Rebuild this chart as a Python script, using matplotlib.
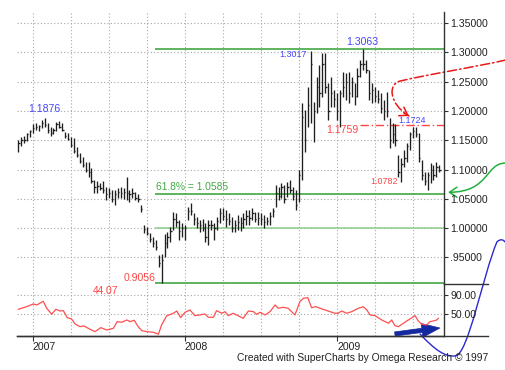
import matplotlib
matplotlib.use("Agg")
import matplotlib.pyplot as plt
import numpy as np
from matplotlib.path import Path
from matplotlib.patches import FancyArrowPatch
from matplotlib.lines import Line2D

plt.rcParams['font.family'] = ['Liberation Sans', 'DejaVu Sans']

# ---------------- data ----------------
first_week = -5   # weeks relative to the first week of 2007
highs = [1.150, 1.155, 1.158, 1.162, 1.168, 1.178, 1.180, 1.176, 1.184, 1.1876,
         1.179, 1.173, 1.170, 1.181, 1.183, 1.179, 1.164, 1.162, 1.155, 1.153,
         1.139, 1.128, 1.121, 1.113, 1.113, 1.102, 1.082, 1.080, 1.077, 1.080,
         1.070, 1.068, 1.065, 1.065, 1.068, 1.070, 1.068, 1.087, 1.065, 1.068,
         1.062, 1.058, 1.040, 1.005, 1.002, 0.992, 0.985, 0.980, 0.954, 0.955,
         0.990, 0.993, 1.002, 1.027, 1.026, 1.014, 1.009, 1.005, 1.036, 1.043,
         1.026, 1.019, 1.014, 1.016, 1.009, 1.014, 1.014, 1.009, 1.019, 1.034,
         1.034, 1.031, 1.026, 1.019, 1.014, 1.022, 1.019, 1.026, 1.031, 1.031,
         1.034, 1.027, 1.027, 1.026, 1.022, 1.019, 1.027, 1.034, 1.073, 1.070,
         1.077, 1.073, 1.079, 1.082, 1.070, 1.065, 1.100, 1.213, 1.201, 1.240,
         1.3017, 1.215, 1.258, 1.278, 1.298, 1.298, 1.248, 1.258, 1.236, 1.230,
         1.236, 1.266, 1.264, 1.266, 1.258, 1.248, 1.273, 1.287, 1.3063, 1.287,
         1.270, 1.248, 1.241, 1.236, 1.230, 1.218, 1.232, 1.188, 1.180, 1.178,
         1.125, 1.120, 1.133, 1.145, 1.164, 1.172, 1.1724, 1.162, 1.116, 1.096,
         1.096, 1.111, 1.108, 1.113, 1.108]
lows = [1.130, 1.140, 1.145, 1.148, 1.156, 1.163, 1.167, 1.165, 1.170, 1.173,
        1.163, 1.158, 1.160, 1.165, 1.170, 1.165, 1.153, 1.150, 1.139, 1.128,
        1.121, 1.111, 1.104, 1.096, 1.087, 1.077, 1.060, 1.060, 1.065, 1.060,
        1.048, 1.052, 1.045, 1.040, 1.052, 1.052, 1.050, 1.048, 1.045, 1.052,
        1.048, 1.045, 1.028, 0.992, 0.988, 0.977, 0.968, 0.963, 0.934, 0.9056,
        0.950, 0.966, 0.976, 0.997, 1.002, 0.980, 0.985, 0.980, 1.014, 1.022,
        1.005, 1.000, 0.993, 0.995, 0.976, 0.971, 0.997, 0.980, 0.997, 1.009,
        1.014, 1.002, 1.005, 0.993, 0.993, 0.997, 0.995, 1.000, 1.005, 1.005,
        1.014, 1.010, 1.005, 1.005, 1.000, 1.005, 1.005, 1.019, 1.036, 1.048,
        1.051, 1.043, 1.053, 1.060, 1.048, 1.031, 1.045, 1.082, 1.130, 1.172,
        1.180, 1.147, 1.197, 1.207, 1.224, 1.230, 1.184, 1.207, 1.207, 1.184,
        1.172, 1.224, 1.219, 1.213, 1.224, 1.210, 1.224, 1.258, 1.270, 1.264,
        1.219, 1.213, 1.215, 1.213, 1.196, 1.184, 1.190, 1.137, 1.145, 1.140,
        1.087, 1.0782, 1.104, 1.113, 1.133, 1.153, 1.155, 1.113, 1.082, 1.073,
        1.065, 1.077, 1.082, 1.087, 1.096]
closes = [1.145, 1.150, 1.150, 1.160, 1.165, 1.170, 1.172, 1.174, 1.180, 1.176,
          1.168, 1.162, 1.168, 1.178, 1.172, 1.168, 1.158, 1.152, 1.142, 1.132,
          1.125, 1.115, 1.108, 1.100, 1.095, 1.080, 1.070, 1.072, 1.068, 1.065,
          1.058, 1.060, 1.050, 1.058, 1.062, 1.060, 1.062, 1.060, 1.058, 1.060,
          1.052, 1.050, 1.032, 0.998, 0.992, 0.982, 0.975, 0.968, 0.940, 0.945,
          0.975, 0.985, 0.995, 1.015, 1.010, 0.995, 1.000, 1.000, 1.030, 1.030,
          1.015, 1.008, 1.005, 1.000, 0.985, 1.005, 1.005, 1.000, 1.012, 1.025,
          1.020, 1.015, 1.012, 1.000, 1.005, 1.010, 1.008, 1.015, 1.020, 1.018,
          1.025, 1.015, 1.018, 1.015, 1.010, 1.012, 1.020, 1.030, 1.060, 1.055,
          1.070, 1.050, 1.070, 1.065, 1.055, 1.040, 1.090, 1.190, 1.150, 1.210,
          1.280, 1.200, 1.240, 1.230, 1.280, 1.240, 1.200, 1.230, 1.220, 1.200,
          1.230, 1.240, 1.250, 1.230, 1.250, 1.225, 1.260, 1.280, 1.280, 1.270,
          1.230, 1.235, 1.225, 1.220, 1.205, 1.200, 1.200, 1.150, 1.160, 1.150,
          1.095, 1.110, 1.120, 1.140, 1.160, 1.165, 1.160, 1.120, 1.090, 1.080,
          1.090, 1.100, 1.090, 1.105, 1.100]
weeks = np.arange(first_week, first_week + len(highs))

osc_weeks = [-5.0, -2.2, 0.1, 1.3, 3.5, 4.7, 6.4, 7.8, 9.2, 10.4, 11.7, 13.2, 14.4,
             16.1, 17.4, 19.5, 21.2, 23.2, 25.2, 26.3, 27.5, 28.8, 30.3, 32.1,
             33.2, 34.6, 36.0, 37.2, 38.9, 41.2, 42.9, 44.0, 45.7, 48.0, 49.2,
             50.5, 52.0, 53.7, 55.4, 57.1, 58.8, 60.0, 61.7, 62.8, 64.6, 65.7,
             66.8, 68.5, 70.8, 71.9, 73.7, 75.4, 76.5, 77.7, 79.4, 81.1, 82.8,
             83.9, 85.6, 87.3, 89.6, 91.3, 92.5, 94.0, 95.3, 96.7, 98.2, 99.9,
             101.6, 103.3, 104.4, 105.6, 107.3, 109.0, 111.3, 113.0, 114.2,
             115.3, 117.0, 119.3, 121.6, 122.7, 123.8, 125.0, 126.7, 128.4,
             130.7, 131.8, 133.0, 134.7, 135.8, 136.9, 138.1, 138.7]
osc_vals = [60.4, 65.7, 71.3, 69.3, 76.9, 62.4, 50.0, 60.4, 56.8, 57.5, 43.0, 40.3,
            29.9, 24.3, 25.8, 19.0, 14.0, 22.3, 17.5, 19.0, 21.0, 34.7, 33.4, 38.2,
            34.7, 37.6, 24.3, 16.1, 14.0, 12.7, 8.6, 27.9, 46.5, 52.1, 56.8, 43.0,
            54.1, 58.9, 47.1, 48.6, 50.6, 43.8, 43.8, 57.5, 52.1, 55.4, 47.1, 52.1,
            45.0, 41.7, 56.8, 55.4, 50.0, 54.1, 48.6, 55.4, 69.3, 62.4, 64.5, 62.4,
            48.6, 76.1, 83.1, 84.4, 63.7, 65.7, 62.4, 58.9, 55.4, 52.1, 52.1, 56.8,
            52.1, 55.4, 62.4, 65.7, 58.9, 48.6, 47.1, 38.2, 31.4, 38.2, 26.4, 24.3,
            31.4, 38.2, 47.1, 36.1, 29.3, 27.9, 34.7, 36.1, 38.2, 41.7]

price_ticks = [1.35, 1.30, 1.25, 1.20, 1.15, 1.10, 1.05, 1.00, 0.95]
price_tick_labels = ['1.35000', '1.30000', '1.25000', '1.20000', '1.15000',
                     '1.10000', '1.05000', '1.00000', '.95000']
osc_ticks = [90, 50]
osc_tick_labels = ['90.00', '50.00']
year_weeks = [0, 52, 104]
year_labels = ['2007', '2008', '2009']

fib_high = 1.3063
fib_618 = 1.0585
fib_mid = 1.0000
fib_low = 0.9056
fib_start_week = 41.7
resist_level = 1.1759
resist_start_week = 111.9
osc_last = '44.07'

# ---------------- style ----------------
BLUE_TXT = '#4646ff'
RED = '#ff4545'
GREEN = '#43a843'
LGREEN = '#8cce8c'
GRID = '#a8a8a8'
BAR = '#1e1e1e'
AXC = '#333333'

W, H = 506, 370
fig = plt.figure(figsize=(W / 100, H / 100), dpi=100)
ax = fig.add_axes([17 / W, 1 - 284 / H, 427 / W, 272 / H])
ax2 = fig.add_axes([17 / W, 1 - 336 / H, 427 / W, 52 / H])

xlim = (-5.47, 140.6)
for a in (ax, ax2):
    a.set_facecolor('none')
    for s in ('top', 'left'):
        a.spines[s].set_visible(False)
    a.spines['right'].set_color(AXC)
    a.spines['right'].set_linewidth(1.0)
ax.spines['bottom'].set_visible(False)
ax2.spines['bottom'].set_color(AXC)
ax2.spines['bottom'].set_linewidth(1.0)

grid_kw = dict(color=GRID, lw=0.8, linestyle=(0, (1, 2)), zorder=0)
quarter_weeks = np.arange(0, 140, 13)
for yv in price_ticks:
    ax.axhline(yv, **grid_kw)
for xv in quarter_weeks:
    ax.axvline(xv, **grid_kw)
    ax2.axvline(xv, **grid_kw)
for yv in osc_ticks:
    ax2.axhline(yv, **grid_kw)

# price bars
ax.vlines(weeks, lows, highs, color=BAR, lw=0.95, zorder=3)
ax.hlines(closes, weeks, weeks + 0.45, color=BAR, lw=0.95, zorder=3)

# fib / support lines
ax.hlines([fib_high, fib_618, fib_low], fib_start_week, xlim[1], color=GREEN, lw=1.2, zorder=2)
ax.hlines([fib_mid], fib_start_week, xlim[1], color=LGREEN, lw=1.1, zorder=2)
ax.hlines([resist_level], resist_start_week, xlim[1], color=RED, lw=1.0,
          linestyle=(0, (6, 2, 1, 2)), zorder=2)

# labels
def label(a, txt, xy, off, color, size, ha='center', va='center'):
    a.annotate(txt, xy=xy, xytext=off, textcoords='offset pixels', color=color,
               fontsize=size, ha=ha, va=va, zorder=5)

i_peak07 = int(np.argmax(highs[:20]))
label(ax, '1.1876', (weeks[i_peak07], highs[i_peak07]), (0, 9), BLUE_TXT, 7.6)
i_peak09 = int(np.argmax(highs))
label(ax, '1.3063', (weeks[i_peak09], highs[i_peak09]), (-1, 6.5), BLUE_TXT, 7.6)
i_3017 = highs.index(1.3017)
label(ax, '1.3017', (weeks[i_3017], highs[i_3017]), (-3.5, -3.5), BLUE_TXT, 6.4, ha='right')
i_1724 = highs.index(1.1724)
label(ax, '1.1724', (weeks[i_1724], highs[i_1724]), (-3.5, 6.5), BLUE_TXT, 6.4)
label(ax, '1.1759', (105.9, resist_level), (0, -5), RED, 7.6)
i_0782 = lows.index(1.0782)
label(ax, '1.0782', (weeks[i_0782], lows[i_0782]), (-3.5, 1), RED, 6.4, ha='right')
i_low = int(np.argmin(lows))
label(ax, '0.9056', (weeks[i_low], lows[i_low]), (-5.5, 5.6), RED, 7.6, ha='right')
label(ax, '61.8% = 1.0585', (fib_start_week, fib_618), (1, 6.5), GREEN, 7.4, ha='left')

# right axis ticks
ax.yaxis.tick_right()
ax.set_yticks(price_ticks)
ax.set_yticklabels(price_tick_labels)
ax.set_xticks([])
ax2.yaxis.tick_right()
ax2.set_yticks(osc_ticks)
ax2.set_yticklabels(osc_tick_labels)
for a in (ax, ax2):
    a.tick_params(axis='y', direction='out', length=3, width=0.8, pad=1.5,
                  colors=AXC, labelsize=7.6, labelcolor='#222222')

ax2.set_xticks(year_weeks)
ax2.set_xticklabels(year_labels)
ax2.tick_params(axis='x', direction='out', length=3.6, width=0.8, pad=0.5,
                colors=AXC, labelsize=7.6, labelcolor='#222222')
for t in ax2.get_xticklabels():
    t.set_ha('left')

# oscillator
ax2.plot(osc_weeks, osc_vals, color='#ff4f4f', lw=0.9, zorder=3)
ax2.text(24.8, 99, osc_last, color=RED, fontsize=7.4, ha='center', va='center')

# extended frame lines
ax2.add_line(Line2D([0, 1.103], [0, 0], transform=ax2.transAxes, color=AXC,
                    lw=1.0, clip_on=False))
ax2.add_line(Line2D([1.0, 1.103], [1, 1], transform=ax2.transAxes, color=AXC,
                    lw=1.0, clip_on=False))

fig.text(488 / W, 1 - 358 / H, 'Created with SuperCharts by Omega Research \u00a9 1997',
         ha='right', va='center', fontsize=7.4, color='#222222')

# ---------------- hand-drawn decorations ----------------
C4 = Path.CURVE4
green_path = Path([(161.8, 1.1111), (154.6, 1.1111), (156.3, 1.0616), (142.0, 1.0611)],
                  [Path.MOVETO, C4, C4, C4])
p = FancyArrowPatch(path=green_path, arrowstyle='->,head_length=0.45,head_width=0.3',
                    mutation_scale=12, color='#22b040', lw=1.1, transform=ax.transData)
ax.add_patch(p); p.set_clip_on(False)

red_path = Path([(161.8, 1.2869), (149.5, 1.2732), (135.8, 1.2630), (125.6, 1.2510),
                 (121.5, 1.2459), (121.5, 1.2135), (128.6, 1.1913)],
                [Path.MOVETO, C4, C4, C4, C4, C4, C4])
p = FancyArrowPatch(path=red_path, arrowstyle='-', color='#e81818', lw=1.1,
                    linestyle=(0, (6, 2, 1, 2)), transform=ax.transData)
ax.add_patch(p); p.set_clip_on(False)
a = ax.annotate('', xy=(128.6, 1.1913), xytext=(126.9, 1.1964),
                arrowprops=dict(arrowstyle='->,head_length=0.45,head_width=0.3',
                                mutation_scale=12, color='#e81818', lw=1.1,
                                shrinkA=0, shrinkB=0))
a.set_clip_on(False)

blue_path = Path([(132.4, 9.2), (137.5, -23.9), (140.9, -38.4), (144.4, -36.3),
                  (148.8, -36.3), (153.9, 131.4), (158.7, 199.7),
                  (160.1, 207.9), (161.1, 203.8), (161.8, 197.6)],
                 [Path.MOVETO, C4, C4, C4, C4, C4, C4, C4, C4, C4])
p = FancyArrowPatch(path=blue_path, arrowstyle='-', color='#2a2ad0', lw=1.0,
                    transform=ax2.transData)
ax2.add_patch(p); p.set_clip_on(False)

p = FancyArrowPatch((123.8, 9.2), (139.2, 21.6),
                    arrowstyle='simple,head_length=1.3,head_width=1.0,tail_width=0.3',
                    mutation_scale=10, color='#1428a0', lw=0.5, shrinkA=0, shrinkB=0,
                    transform=ax2.transData)
ax2.add_patch(p); p.set_clip_on(False)

ax.set_xlim(*xlim)
ax.set_ylim(0.9046, 1.3688)
ax2.set_xlim(*xlim)
ax2.set_ylim(5, 112.7)

fig.savefig('out.png', dpi=100)
